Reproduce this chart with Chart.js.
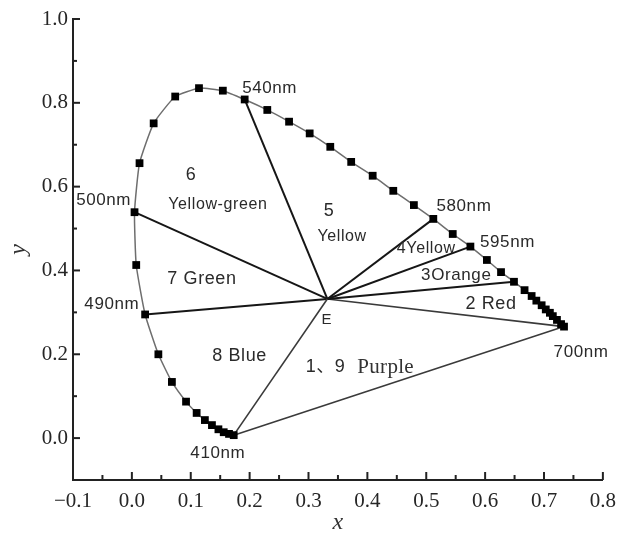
<!DOCTYPE html>
<html>
<head>
<meta charset="utf-8">
<script src="https://cdn.jsdelivr.net/npm/chart.js@4/dist/chart.umd.min.js"></script>
<style>
  html, body { margin: 0; padding: 0; background: #fff; }
  #wrap { width: 625px; height: 541px; }
</style>
</head>
<body>
<div id="wrap"><canvas id="cie"></canvas></div>
<script>
// spectral locus, 410nm -> 700nm
const locusX = [0.173, 0.165, 0.156, 0.147, 0.136, 0.124, 0.110, 0.092, 0.068, 0.045, 0.0225, 0.0074, 0.0045, 0.013, 0.037, 0.0736, 0.114, 0.1545, 0.1916, 0.230, 0.267, 0.302, 0.337, 0.3725, 0.409, 0.444, 0.479, 0.512, 0.545, 0.575, 0.603, 0.627, 0.649, 0.667, 0.679, 0.687, 0.696, 0.703, 0.710, 0.715, 0.722, 0.729, 0.734];
const locusY = [0.007, 0.010, 0.014, 0.021, 0.031, 0.043, 0.060, 0.087, 0.134, 0.200, 0.295, 0.413, 0.539, 0.656, 0.751, 0.815, 0.835, 0.829, 0.808, 0.783, 0.755, 0.727, 0.695, 0.659, 0.626, 0.590, 0.556, 0.523, 0.487, 0.457, 0.425, 0.396, 0.373, 0.353, 0.339, 0.328, 0.317, 0.307, 0.299, 0.291, 0.282, 0.272, 0.266];

// equal-energy white point E
const whitePoint = [0.332, 0.332];

// locus points where the hue boundaries end (410, 490, 500, 540, 580, 595, 610, 700 nm)
const boundaryIdx = [0, 10, 12, 18, 27, 29, 32, 42];

const xTickVals = [-0.1, 0, 0.1, 0.2, 0.3, 0.4, 0.5, 0.6, 0.7, 0.8];
const yTickVals = [0, 0.2, 0.4, 0.6, 0.8, 1.0];

const SANS = "'Liberation Sans', Arial, 'Noto Sans CJK SC', sans-serif";
const SERIF = "'Liberation Serif', 'Times New Roman', serif";

// text placed on the diagram (data coordinates)
const notes = [
    { text: '540nm', x: 0.234, y: 0.835, size: 17 },
    { text: '500nm', x: -0.048, y: 0.568, size: 17 },
    { text: '490nm', x: -0.034, y: 0.320, size: 17 },
    { text: '410nm', x: 0.146, y: -0.036, size: 17 },
    { text: '580nm', x: 0.564, y: 0.554, size: 17 },
    { text: '595nm', x: 0.638, y: 0.468, size: 17 },
    { text: '700nm', x: 0.763, y: 0.205, size: 17 },
    { text: '6', x: 0.1006, y: 0.628, size: 18 },
    { text: 'Yellow-green', x: 0.146, y: 0.558, size: 16 },
    { text: '5', x: 0.335, y: 0.542, size: 18 },
    { text: 'Yellow', x: 0.357, y: 0.480, size: 16 },
    { text: '4Yellow', x: 0.500, y: 0.451, size: 16 },
    { text: '3Orange', x: 0.551, y: 0.389, size: 17 },
    { text: '2 Red', x: 0.610, y: 0.320, size: 18 },
    { text: '7 Green', x: 0.119, y: 0.379, size: 18 },
    { text: '8 Blue', x: 0.183, y: 0.196, size: 18 },
    { text: 'E', x: 0.331, y: 0.282, size: 15 },
    { text: '1、9', x: 0.329, y: 0.169, size: 18 },
    { text: 'Purple', x: 0.431, y: 0.169, size: 21, serif: true }
];

const locus = locusX.map((x, i) => ({ x: x, y: locusY[i] }));
const E = { x: whitePoint[0], y: whitePoint[1] };

const datasets = [{
    label: 'locus',
    data: locus,
    showLine: true,
    borderColor: '#6e6e6e',
    borderWidth: 1.5,
    tension: 0.15,
    pointStyle: 'rect',
    pointRadius: 5.5,
    pointBackgroundColor: '#000',
    pointBorderWidth: 0,
    order: 0
}];

boundaryIdx.forEach(i => {
    const outer = (i === 0 || i === 42);
    datasets.push({
        label: 'E-' + i,
        data: [E, locus[i]],
        showLine: true,
        borderColor: outer ? '#3a3a3a' : '#161616',
        borderWidth: outer ? 1.6 : 2,
        pointRadius: 0,
        order: 1
    });
});

// purple line 410nm - 700nm
datasets.push({
    label: 'purple',
    data: [locus[0], locus[locus.length - 1]],
    showLine: true,
    borderColor: '#3a3a3a',
    borderWidth: 1.6,
    pointRadius: 0,
    order: 1
});

/**
 * Marcas dos eixos viradas para dentro (maiores e menores) e textos do diagrama
 */
const extras = {
    id: 'extras',
    afterDatasetsDraw(chart) {
        const { ctx, scales: { x, y } } = chart;
        ctx.save();
        ctx.strokeStyle = '#222';
        ctx.lineWidth = 2;
        for (let v = -0.1; v <= 0.8001; v += 0.05) {
            const px = x.getPixelForValue(v);
            const major = Math.abs(Math.round(v * 10) - v * 10) < 0.01;
            ctx.beginPath();
            ctx.moveTo(px, y.bottom);
            ctx.lineTo(px, y.bottom - (major ? 8 : 5));
            ctx.stroke();
        }
        for (let v = 0; v <= 1.0001; v += 0.1) {
            const py = y.getPixelForValue(v);
            const major = Math.round(v * 10) % 2 === 0;
            ctx.beginPath();
            ctx.moveTo(x.left, py);
            ctx.lineTo(x.left + (major ? 7 : 4), py);
            ctx.stroke();
        }

        ctx.textAlign = 'center';
        ctx.textBaseline = 'middle';
        notes.forEach(n => {
            ctx.fillStyle = n.serif ? '#333' : '#2a2a2a';
            ctx.font = n.size + 'px ' + (n.serif ? SERIF : SANS);
            ctx.letterSpacing = n.serif ? '0.3px' : '0.6px';
            ctx.fillText(n.text, x.getPixelForValue(n.x), y.getPixelForValue(n.y));
        });
        ctx.restore();
    }
};

new Chart(document.getElementById('cie'), {
    type: 'scatter',
    data: { datasets: datasets },
    options: {
        responsive: true,
        maintainAspectRatio: false,
        animation: false,
        layout: { padding: { top: 19, right: 18, left: 0, bottom: 0 } },
        plugins: {
            legend: { display: false },
            tooltip: { enabled: false }
        },
        scales: {
            x: {
                type: 'linear',
                min: -0.1,
                max: 0.8,
                afterBuildTicks: s => { s.ticks = xTickVals.map(v => ({ value: v })); },
                afterFit: s => { s.height = 61; },
                grid: { display: true, drawOnChartArea: false, drawTicks: false },
                border: { display: true, color: '#222', width: 2 },
                ticks: {
                    padding: 9,
                    color: '#262626',
                    font: { family: SERIF, size: 21 },
                    callback: v => (v < 0 ? '\u2212' : '') + Math.abs(v).toFixed(1)
                },
                title: {
                    display: true,
                    text: 'x',
                    color: '#333',
                    padding: { top: 0, bottom: 4 },
                    font: { family: SERIF, size: 24, style: 'italic' }
                }
            },
            y: {
                type: 'linear',
                min: -0.1,
                max: 1.0,
                afterBuildTicks: s => { s.ticks = yTickVals.map(v => ({ value: v })); },
                afterFit: s => { s.width = 73; },
                grid: { display: true, drawOnChartArea: false, drawTicks: false },
                border: { display: true, color: '#222', width: 2 },
                ticks: {
                    padding: 5,
                    color: '#262626',
                    font: { family: SERIF, size: 21 },
                    callback: v => v.toFixed(1)
                },
                title: {
                    display: true,
                    text: 'y',
                    color: '#333',
                    padding: { top: 4, bottom: 0 },
                    font: { family: SERIF, size: 24, style: 'italic' }
                }
            }
        }
    },
    plugins: [extras]
});
</script>
</body>
</html>
